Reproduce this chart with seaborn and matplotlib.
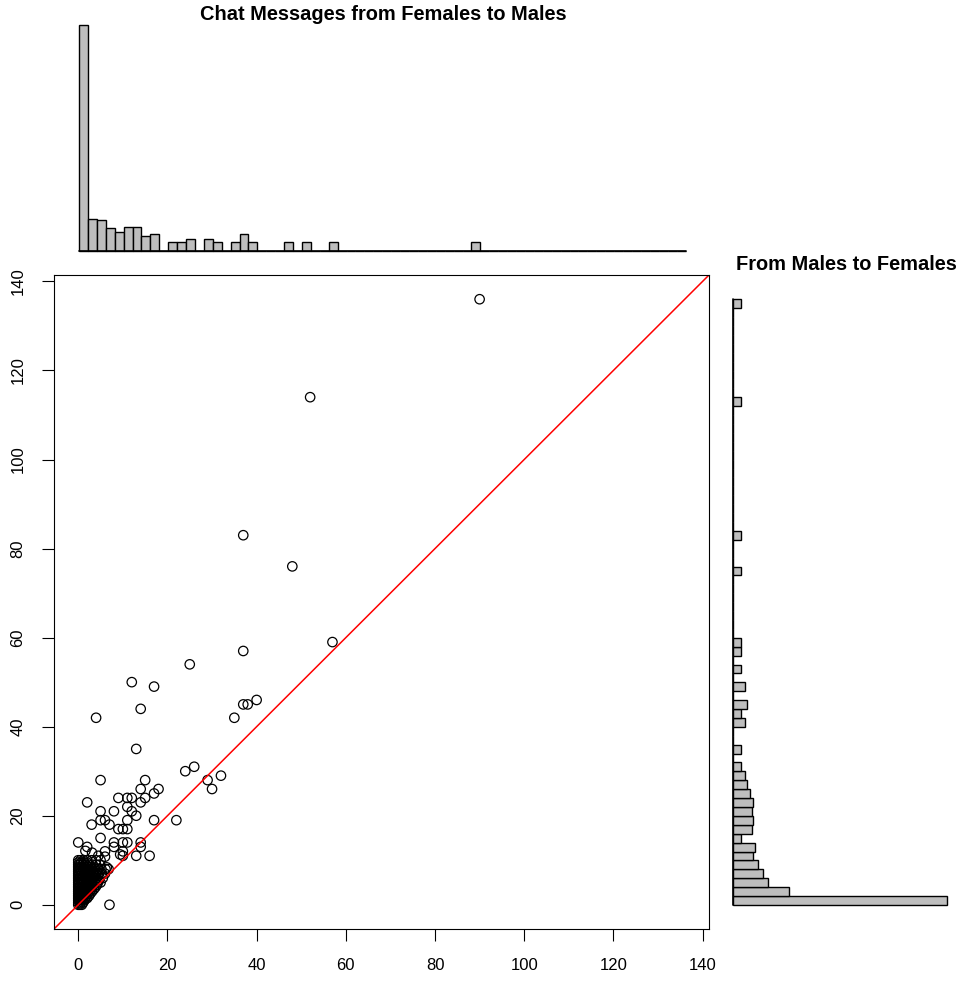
import numpy as np
import pandas as pd
import matplotlib
matplotlib.use("Agg")
import matplotlib.pyplot as plt
import seaborn as sns

# punctele vizibile din scatter (mesaje femei->barbati pe x, barbati->femei pe y)
outer_x = [90, 52, 37, 48, 57, 37, 25, 12, 17, 40, 37, 38, 14, 4, 35, 13, 24, 26, 29, 32,
           30, 5, 15, 14, 18, 17, 15, 14, 9, 11, 12, 2, 11, 12, 13, 8, 5, 11, 5, 6,
           3, 7, 9, 10, 11, 17, 22, 5, 0, 2, 8, 11, 14, 14, 8, 6, 10, 10, 13, 16, 7,
           1.6, 3.1, 4.5, 6.0, 6.4, 9.4, 10]
outer_y = [136, 114, 83, 76, 59, 57, 54, 50, 49, 46, 45, 45, 44, 42, 42, 35, 30, 31, 28, 29,
           26, 28, 28, 26, 26, 25, 24, 23, 24, 24, 24, 23, 22, 21, 20, 21, 21, 19, 19, 19,
           18, 18, 17, 17, 17, 19, 19, 15, 14, 13, 14, 14, 14, 13, 13, 12, 11, 12, 11, 11, 0,
           12.1, 11.7, 11.0, 10.8, 8.4, 11.3, 14]

# grupul dens de langa origine (puncte suprapuse, citite aproximativ)
cluster_x = [0, 0.4, 0.8,
             0, 0.5, 1.1,
             0, 0.4, 0.9, 1.4,
             0, 0.5, 1.0, 1.6, 2.0,
             0, 0.3, 0.8, 1.3, 1.8, 2.4,
             0, 0.5, 1.0, 1.5, 2.1, 2.7,
             0, 0.4, 0.9, 1.4, 2.0, 2.5, 3.1,
             0, 0.6, 1.1, 1.7, 2.3, 2.9, 3.5,
             0, 0.4, 0.9, 1.5, 2.0, 2.6, 3.2, 3.9,
             0, 0.5, 1.0, 1.6, 2.2, 2.8, 3.4, 4.2,
             0, 0.3, 0.8, 1.3, 1.9, 2.5, 3.0, 3.7, 4.4, 5.0,
             0, 0.6, 1.2, 1.8, 2.4, 3.1, 3.8, 4.6,
             0, 0.4, 0.9, 1.5, 2.1, 2.7, 3.3, 4.0, 4.8, 5.5,
             0, 0.5, 1.1, 1.7, 2.4, 3.0, 3.6, 4.3,
             0, 0.3, 0.8, 1.4, 2.0, 2.6, 3.2, 3.9, 4.6, 5.3, 6.0,
             0, 0.6, 1.2, 1.9, 2.5, 3.3, 4.1,
             0, 0.4, 1.0, 1.6, 2.3, 3.0, 3.8, 4.5, 5.2, 6.1, 6.8,
             0, 0.7, 1.4, 2.1, 2.8, 3.6,
             0, 0.4, 1.0, 1.7, 2.5, 3.2, 4.0, 4.8,
             0, 0.6, 1.3, 2.0,
             0, 0.5, 1.2, 2.0, 3.0, 4.0, 5.0]
cluster_y = [0, 0, 0,
             0.5, 0.5, 0.5,
             1, 1, 1, 1,
             1.5, 1.5, 1.5, 1.5, 1.5,
             2, 2, 2, 2, 2, 2,
             2.5, 2.5, 2.5, 2.5, 2.5, 2.5,
             3, 3, 3, 3, 3, 3, 3,
             3.5, 3.5, 3.5, 3.5, 3.5, 3.5, 3.5,
             4, 4, 4, 4, 4, 4, 4, 4,
             4.5, 4.5, 4.5, 4.5, 4.5, 4.5, 4.5, 4.5,
             5, 5, 5, 5, 5, 5, 5, 5, 5, 5,
             5.5, 5.5, 5.5, 5.5, 5.5, 5.5, 5.5, 5.5,
             6, 6, 6, 6, 6, 6, 6, 6, 6, 6,
             6.5, 6.5, 6.5, 6.5, 6.5, 6.5, 6.5, 6.5,
             7, 7, 7, 7, 7, 7, 7, 7, 7, 7, 7,
             7.5, 7.5, 7.5, 7.5, 7.5, 7.5, 7.5,
             8, 8, 8, 8, 8, 8, 8, 8, 8, 8, 8,
             8.5, 8.5, 8.5, 8.5, 8.5, 8.5,
             9, 9, 9, 9, 9, 9, 9, 9,
             9.5, 9.5, 9.5, 9.5,
             10, 10, 10, 10, 10, 10, 10]

# histograme: intervale de cate 2 mesaje, de la 0 la 136
bin_edges = list(range(0, 138, 2))
top_counts = [711, 14, 13, 7, 5, 8, 8, 3, 4, 0, 1, 1, 2, 0, 2, 1, 0, 1, 4, 1,
              0, 0, 0, 1, 0, 1, 0, 0, 1, 0, 0, 0, 0, 0, 0, 0, 0, 0, 0, 0,
              0, 0, 0, 0, 1, 0, 0, 0, 0, 0, 0, 0, 0, 0, 0, 0, 0, 0, 0, 0,
              0, 0, 0, 0, 0, 0, 0, 0]
right_counts = [645, 44, 17, 13, 9, 6, 7, 1, 5, 6, 5, 6, 4, 3, 2, 1, 0, 1, 0, 0,
                2, 1, 3, 0, 2, 0, 1, 0, 1, 1, 0, 0, 0, 0, 0, 0, 0, 1, 0, 0,
                0, 1, 0, 0, 0, 0, 0, 0, 0, 0, 0, 0, 0, 0, 0, 0, 1, 0, 0, 0,
                0, 0, 0, 0, 0, 0, 0, 1]

sns.set_theme(style="white")
plt.rcParams['font.family'] = ['Liberation Sans', 'DejaVu Sans']
plt.rcParams['text.color'] = 'black'

W, H = 958, 982
fig = plt.figure(figsize=(W / 100, H / 100), dpi=100)

def px_axes(left, top, right, bottom):
    return fig.add_axes([left / W, 1 - bottom / H, (right - left) / W, (bottom - top) / H])

# graficul principal
ax = px_axes(54, 275, 709, 929)
pts = pd.DataFrame({'x': outer_x + cluster_x, 'y': outer_y + cluster_y})
sns.scatterplot(data=pts, x='x', y='y', ax=ax, marker='o', s=46, color='none',
                edgecolor='black', linewidth=0.9)
lim = (-5.44, 141.44)
ax.set_xlim(lim)
ax.set_ylim(lim)
ax.set_xlabel('')
ax.set_ylabel('')
ax.axline((0, 0), slope=1, color='red', lw=1.1)
ticks = np.arange(0, 141, 20)
ax.set_xticks(ticks)
ax.set_yticks(ticks)
ax.set_yticklabels([str(t) for t in ticks], rotation=90, va='center')
ax.tick_params(axis='both', direction='out', length=8.6, width=0.8, pad=12,
               labelsize=12, colors='black', bottom=True, left=True)
for sp in ax.spines.values():
    sp.set_color('black')
    sp.set_linewidth(0.8)

# inaltimea barelor = radical din numar
mids = [(a + b) / 2 for a, b in zip(bin_edges[:-1], bin_edges[1:])]
hist_top = pd.DataFrame({'v': mids, 'w': np.sqrt(top_counts)})
hist_right = pd.DataFrame({'v': mids, 'w': np.sqrt(right_counts)})
top = max(hist_top['w'].max(), hist_right['w'].max())

axt = px_axes(79, 25, 685.5, 250.7)
sns.histplot(data=hist_top, x='v', weights='w', bins=bin_edges, ax=axt,
             color='#BEBEBE', edgecolor='black', linewidth=1.0, alpha=1)
for p in axt.patches:
    p.set_clip_on(False)
axt.axhline(0, color='black', lw=1.2, clip_on=False)
axt.set_xlim(0, 136)
axt.set_ylim(0, top)
axt.set_axis_off()

axr = px_axes(732.7, 299.3, 958, 905)
sns.histplot(data=hist_right, y='v', weights='w', bins=bin_edges, ax=axr,
             color='#BEBEBE', edgecolor='black', linewidth=1.0, alpha=1)
for p in axr.patches:
    p.set_clip_on(False)
axr.axvline(0, color='black', lw=1.2, clip_on=False)
axr.set_ylim(0, 136)
axr.set_xlim(0, top)
axr.set_axis_off()

fig.text(383 / W, 1 - 14 / H, 'Chat Messages from Females to Males', ha='center',
         va='center', fontsize=14.4, fontweight='bold', color='black')
fig.text(846 / W, 1 - 264 / H, 'From Males to Females', ha='center',
         va='center', fontsize=14.4, fontweight='bold', color='black')

fig.savefig('out.png', dpi=100)
